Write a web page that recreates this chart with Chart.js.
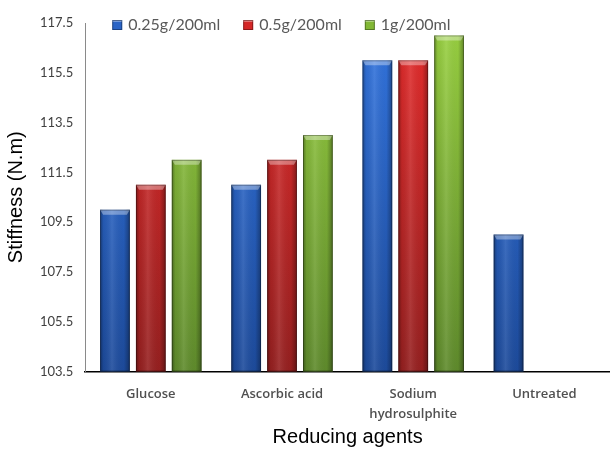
<!DOCTYPE html>
<html>
<head>
<meta charset="utf-8">
<script src="https://cdn.jsdelivr.net/npm/chart.js@4"></script>
<style>
  html, body { margin: 0; padding: 0; background: #fff; }
  canvas { display: block; }
</style>
</head>
<body>
<canvas id="stiffness_cv" width="610" height="449"></canvas>
<script>
// data
var categories = ['Glucose', 'Ascorbic acid', ['Sodium', 'hydrosulphite'], 'Untreated'];
var seriesLabels = ['0.25g/200ml', '0.5g/200ml', '1g/200ml'];
var conc025 = [110, 111, 116, 109];
var conc05 = [111, 112, 116, null];
var conc1 = [112, 113, 117, null];
var yMin = 103.5, yMax = 117.5, yStep = 2;

// colours: [top, bottom, legend]
var palette = [
  ['#3376e2', '#1d4b9c', '#2a64c6'],
  ['#e82d2d', '#962020', '#d42727'],
  ['#9ad241', '#5f8b2c', '#82b835']
];

function vGrad(i) {
  return function (c) {
    var area = c.chart.chartArea;
    if (!area) return palette[i][2];
    var g = c.chart.ctx.createLinearGradient(0, area.top, 0, area.bottom);
    g.addColorStop(0, palette[i][0]);
    g.addColorStop(1, palette[i][1]);
    return g;
  };
}

// shading + bevel on the bars
var bevelPlugin = {
  id: 'bevel',
  afterDatasetsDraw: function (chart) {
    var ctx = chart.ctx;
    var bottom = chart.chartArea.bottom;
    chart.data.datasets.forEach(function (ds, i) {
      var meta = chart.getDatasetMeta(i);
      meta.data.forEach(function (el, j) {
        if (ds.data[j] == null) return;
        var p = el.getProps(['x', 'y', 'width'], true);
        var l = p.x - p.width / 2, r = p.x + p.width / 2;
        var h = bottom - p.y;
        ctx.save();
        var g = ctx.createLinearGradient(l, 0, r, 0);
        g.addColorStop(0, 'rgba(0,0,0,0.35)');
        g.addColorStop(0.12, 'rgba(0,0,0,0.05)');
        g.addColorStop(0.4, 'rgba(255,255,255,0.10)');
        g.addColorStop(0.8, 'rgba(0,0,0,0.02)');
        g.addColorStop(1, 'rgba(0,0,0,0.35)');
        ctx.fillStyle = g;
        ctx.fillRect(l, p.y, p.width, h);
        // top bevel
        ctx.beginPath();
        ctx.moveTo(l, p.y);
        ctx.lineTo(r, p.y);
        ctx.lineTo(r - 3, p.y + 5);
        ctx.lineTo(l + 3, p.y + 5);
        ctx.closePath();
        ctx.fillStyle = 'rgba(255,255,255,0.35)';
        ctx.fill();
        ctx.strokeStyle = 'rgba(0,0,0,0.3)';
        ctx.lineWidth = 1;
        ctx.strokeRect(l + 0.5, p.y + 0.5, p.width - 1, h - 1);
        ctx.restore();
      });
    });
  }
};

// legend drawn inside the plot area
var legendPlugin = {
  id: 'innerLegend',
  afterDraw: function (chart) {
    var ctx = chart.ctx;
    var x = chart.chartArea.left + 27;
    var y = 25;
    ctx.save();
    ctx.font = '16px Lato';
    ctx.textBaseline = 'middle';
    chart.data.datasets.forEach(function (ds, i) {
      ctx.fillStyle = palette[i][2];
      ctx.fillRect(x, y - 5, 10, 10);
      ctx.fillStyle = 'rgba(255,255,255,0.35)';
      ctx.fillRect(x, y - 5, 10, 2);
      ctx.strokeStyle = 'rgba(0,0,0,0.35)';
      ctx.strokeRect(x + 0.5, y - 4.5, 9, 9);
      ctx.fillStyle = '#595959';
      ctx.fillText(ds.label, x + 16, y);
      x += 16 + ctx.measureText(ds.label).width + 23;
    });
    ctx.restore();
  }
};

var chart = new Chart('stiffness_cv', {
  type: 'bar',
  data: {
    labels: categories,
    datasets: [
      { label: seriesLabels[0], data: conc025, backgroundColor: vGrad(0) },
      { label: seriesLabels[1], data: conc05, backgroundColor: vGrad(1) },
      { label: seriesLabels[2], data: conc1, backgroundColor: vGrad(2) }
    ]
  },
  options: {
    responsive: false,
    animation: false,
    layout: { padding: { top: 23, left: 4, right: 0, bottom: 0 } },
    datasets: { bar: { categoryPercentage: 0.82, barPercentage: 0.83 } },
    plugins: {
      legend: { display: false },
      tooltip: { enabled: false }
    },
    scales: {
      x: {
        grid: { display: false, drawTicks: false },
        border: { display: true, color: '#000', width: 1.5 },
        ticks: {
          padding: 12,
          color: '#505050',
          font: { family: 'Open Sans', size: 13, weight: '600', lineHeight: 1.6 }
        },
        title: {
          display: true,
          text: 'Reducing agents',
          color: '#000',
          padding: { top: -12, bottom: 0 },
          font: { family: 'Liberation Sans', size: 20 }
        }
      },
      y: {
        min: yMin,
        max: yMax,
        grid: { display: false, drawTicks: false },
        border: { display: true, color: '#8a8a8a', width: 1 },
        ticks: {
          stepSize: yStep,
          padding: 12,
          color: '#404040',
          font: { family: 'Lato', size: 13 },
          callback: function (v) { return v.toFixed(1); }
        },
        title: {
          display: true,
          text: 'Stiffness (N.m)',
          color: '#000',
          padding: { top: 0, bottom: 0 },
          font: { family: 'Liberation Sans', size: 20 }
        }
      }
    }
  },
  plugins: [bevelPlugin, legendPlugin]
});
</script>
</body>
</html>
